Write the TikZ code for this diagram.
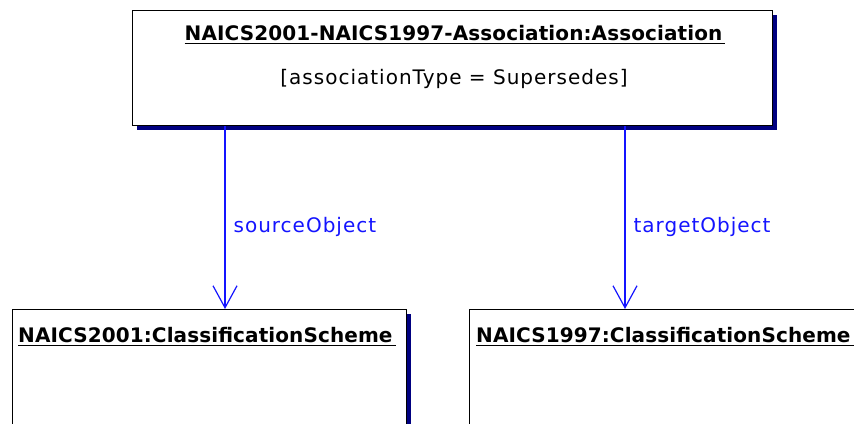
\documentclass[tikz,border=0pt]{standalone}
\usepackage{fontspec}
\setmainfont{DejaVu Sans}[LetterSpace=5]
\newfontfamily\namefont{DejaVu Sans}[LetterSpace=0.5]
\usetikzlibrary{arrows.meta,shadows}

\definecolor{linkblue}{RGB}{20,20,255}
\definecolor{shadownavy}{RGB}{0,0,128}

% object names are bold and underlined
\newcommand{\objname}[1]{\setbox0=\hbox{\namefont\bfseries#1\kern3pt}%
  \rlap{\rule[-4pt]{\wd0}{1.3pt}}\box0}

\begin{document}
\begin{tikzpicture}[x=1pt,y=-1pt,>={Straight Barb[length=22pt,width=24pt]},
        object/.style={draw=black,line width=1pt,fill=white,rectangle,
          anchor=north west,
          general shadow={fill=shadownavy,shadow xshift=4pt,shadow yshift=-4pt}},
        objtext/.style={inner sep=0pt,font=\fontsize{20pt}{22pt}\selectfont},
        link/.style={->,draw=linkblue,line width=1.2pt},
        linklabel/.style={inner sep=0pt,text=linkblue,anchor=west,xshift=8pt,
          font=\fontsize{20pt}{22pt}\selectfont}]

  \clip (0,0) rectangle (854,423);

  % association object
  \node[object,minimum width=640pt,minimum height=115pt] (assoc) at (132,10) {};
  \node[objtext,anchor=base] (assocname) at (455,40)
    {\objname{NAICS2001-NAICS1997-Association:Association}};
  \node[objtext,anchor=base] (assoctype) at (454,84) {[associationType = Supersedes]};

  % classification schemes
  \node[object,minimum width=394pt,minimum height=150pt] (scheme01) at (12,309) {};
  \node[objtext,anchor=base west] (scheme01name) at (18,342)
    {\objname{NAICS2001:ClassificationScheme}};
  \node[object,minimum width=420pt,minimum height=150pt] (scheme97) at (469,309) {};
  \node[objtext,anchor=base west] (scheme97name) at (476,342)
    {\objname{NAICS1997:ClassificationScheme}};

  \draw[link] ([xshift=93pt]assoc.south west) -- ([xshift=213pt]scheme01.north west)
    node[linklabel,pos=0.55] (srclabel) {sourceObject};
  \draw[link] ([xshift=493pt]assoc.south west) -- ([xshift=156pt]scheme97.north west)
    node[linklabel,pos=0.55] (tgtlabel) {targetObject};

\end{tikzpicture}
\end{document}
